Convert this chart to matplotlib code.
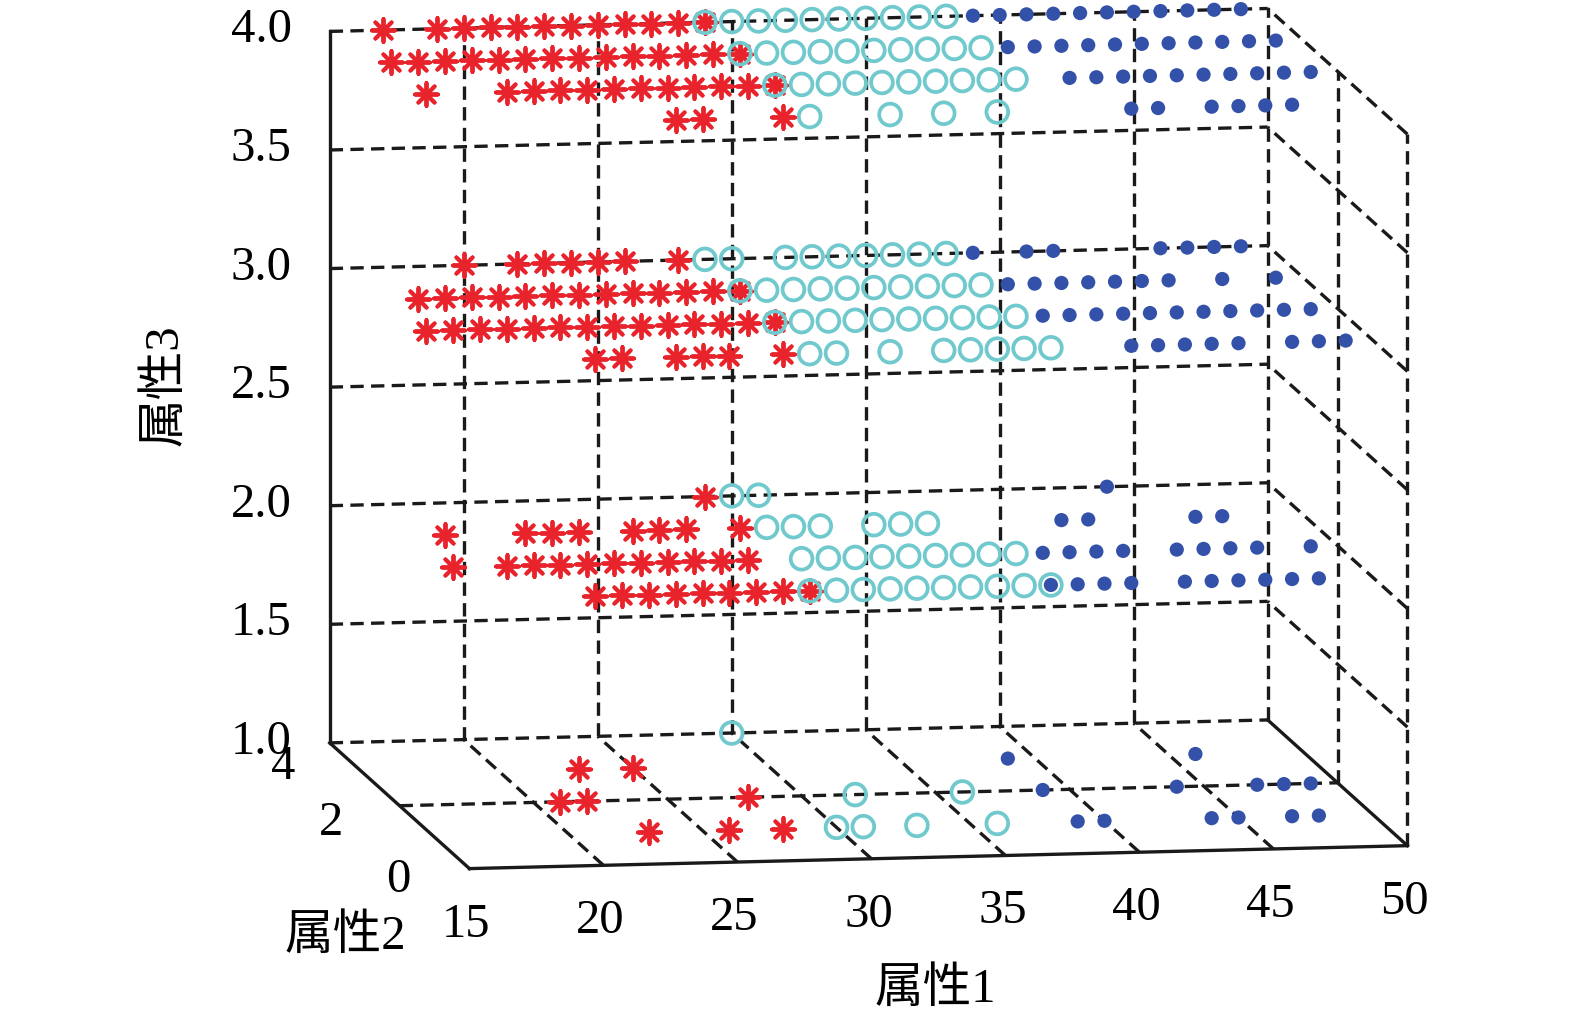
import numpy as np
import matplotlib
matplotlib.use('Agg')
import matplotlib.pyplot as plt

plt.rcParams['font.family'] = ['Liberation Serif', 'Noto Sans CJK SC', 'DejaVu Sans']

# ---------------- data ----------------
x_ticks = [15, 20, 25, 30, 35, 40, 45, 50]
y_ticks = [0, 2, 4]
z_ticks = [1.0, 1.5, 2.0, 2.5, 3.0, 3.5, 4.0]
x_tick_labels = ['15', '20', '25', '30', '35', '40', '45', '50']
y_tick_labels = ['0', '2', '4']
z_tick_labels = ['1.0', '1.5', '2.0', '2.5', '3.0', '3.5', '4.0']
x_name = '属性1'
y_name = '属性2'
z_name = '属性3'

# each row: (属性3, 属性2, [属性1 values])
red_rows = [
    (4, 4, [17, 19, 20, 21, 22, 23, 24, 25, 26, 27, 28, 29]),
    (4, 3, [16, 17, 18, 19, 20, 21, 22, 23, 24, 25, 26, 27, 28, 29]),
    (4, 2, [16, 19, 20, 21, 22, 23, 24, 25, 26, 27, 28, 29]),
    (4, 1, [24, 25, 28]),
    (3, 4, [20, 22, 23, 24, 25, 26, 28]),
    (3, 3, [17, 18, 19, 20, 21, 22, 23, 24, 25, 26, 27, 28, 29]),
    (3, 2, [16, 17, 18, 19, 20, 21, 22, 23, 24, 25, 26, 27, 28, 29]),
    (3, 1, [21, 22, 24, 25, 26, 28]),
    (2, 4, [29]),
    (2, 3, [18, 21, 22, 23, 25, 26, 27, 29]),
    (2, 2, [17, 19, 20, 21, 22, 23, 24, 25, 26, 27, 28]),
    (2, 1, [21, 22, 23, 24, 25, 26, 27, 28, 29]),
    (1, 3, [23, 25]),
    (1, 2, [21, 22, 28]),
    (1, 1, [23, 26, 28]),
]
cyan_rows = [
    (4, 4, [29, 30, 31, 32, 33, 34, 35, 36, 37, 38]),
    (4, 3, [29, 30, 31, 32, 33, 34, 35, 36, 37, 38]),
    (4, 2, [29, 30, 31, 32, 33, 34, 35, 36, 37, 38]),
    (4, 1, [29, 32, 34, 36]),
    (3, 4, [29, 30, 32, 33, 34, 35, 36, 37, 38]),
    (3, 3, [29, 30, 31, 32, 33, 34, 35, 36, 37, 38]),
    (3, 2, [29, 30, 31, 32, 33, 34, 35, 36, 37, 38]),
    (3, 1, [29, 30, 32, 34, 35, 36, 37, 38]),
    (2, 4, [30, 31]),
    (2, 3, [30, 31, 32, 34, 35, 36]),
    (2, 2, [30, 31, 32, 33, 34, 35, 36, 37, 38]),
    (2, 1, [29, 30, 31, 32, 33, 34, 35, 36, 37, 38]),
    (1, 4, [30]),
    (1, 2, [32, 36]),
    (1, 1, [30, 31, 33, 36]),
]
blue_rows = [
    (4, 4, [39, 40, 41, 42, 43, 44, 45, 46, 47, 48, 49]),
    (4, 3, [39, 40, 41, 42, 43, 44, 45, 46, 47, 48, 49]),
    (4, 2, [40, 41, 42, 43, 44, 45, 46, 47, 48, 49]),
    (4, 1, [41, 42, 44, 45, 46, 47]),
    (3, 4, [39, 41, 42, 46, 47, 48, 49]),
    (3, 3, [39, 40, 41, 42, 43, 44, 45, 47, 49]),
    (3, 2, [39, 40, 41, 42, 43, 44, 45, 46, 47, 48, 49]),
    (3, 1, [41, 42, 43, 44, 45, 47, 48, 49]),
    (2, 4, [44]),
    (2, 3, [41, 42, 46, 47]),
    (2, 2, [39, 40, 41, 42, 44, 45, 46, 47, 49]),
    (2, 1, [38, 39, 40, 41, 43, 44, 45, 46, 47, 48]),
    (1, 3, [39, 46]),
    (1, 2, [39, 44, 47, 48, 49]),
    (1, 1, [39, 40, 44, 45, 47, 48]),
]


def expand(rows):
    xs, ys, zs = [], [], []
    for zv, yv, vals in rows:
        for v in vals:
            xs.append(v)
            ys.append(yv)
            zs.append(zv)
    return np.array(xs, float), np.array(ys, float), np.array(zs, float)


# ---------------- style / layout ----------------
RED = '#E8232B'
CYAN = '#6FC9CD'
BLUE = '#3351A8'
FS = 35
W, H = 1575, 1035
xlim = (x_ticks[0], x_ticks[-1])
ylim = (y_ticks[0], y_ticks[-1])
zlim = (z_ticks[0], z_ticks[-1])

fig = plt.figure(figsize=(W / 100, H / 100), dpi=100)
ax = fig.add_axes([0, 0, 1, 1], projection='3d')
ax.set_proj_type('ortho')
ax.set_xlim(*xlim)
ax.set_ylim(*ylim)
ax.set_zlim(*zlim)
ax.set_box_aspect((952.7, 861, 721))
ax.view_init(elev=8.53, azim=-99.36)
ax.set_axis_off()
ax.computed_zorder = False

GRID = dict(color='#1a1a1a', lw=2.4, ls=(0, (4.0, 2.2)), zorder=1)
AXL = dict(color='#1a1a1a', lw=2.4, ls='-', zorder=2)
x0, x1 = xlim
y0, y1 = ylim
z0, z1 = zlim
# back wall (属性2 = max)
for xv in x_ticks[1:]:
    ax.plot([xv, xv], [y1, y1], [z0, z1], **GRID)
for zv in z_ticks:
    ax.plot([x0, x1], [y1, y1], [zv, zv], **GRID)
# floor
for xv in x_ticks[1:-1]:
    ax.plot([xv, xv], [y0, y1], [z0, z0], **GRID)
for yv in y_ticks[1:-1]:
    ax.plot([x0, x1], [yv, yv], [z0, z0], **GRID)
# right wall (属性1 = max)
for zv in z_ticks[1:]:
    ax.plot([x1, x1], [y0, y1], [zv, zv], **GRID)
for yv in y_ticks[:-1]:
    ax.plot([x1, x1], [yv, yv], [z0, z1], **GRID)
# solid axis lines
ax.plot([x0, x0], [y1, y1], [z0, z1], **AXL)
ax.plot([x0, x0], [y0, y1], [z0, z0], **AXL)
ax.plot([x0, x1], [y0, y0], [z0, z0], **AXL)
ax.plot([x1, x1], [y0, y1], [z0, z0], **AXL)

rx, ry, rz = expand(red_rows)
cx, cy, cz = expand(cyan_rows)
bx, by, bz = expand(blue_rows)
ax.scatter(rx, ry, rz, marker=(8, 2, 0), s=270, c=RED, linewidths=2.8,
           depthshade=False, zorder=3)
ax.scatter(cx, cy, cz, marker='o', s=245, facecolors='none', edgecolors=CYAN,
           linewidths=2.7, depthshade=False, zorder=4)
ax.scatter(bx, by, bz, marker='o', s=105, c=BLUE, edgecolors='none',
           depthshade=False, zorder=5)


# ---------------- place the box (calibration of axes position) ----------------
def to_px(x, y, z):
    M = ax.get_proj()
    v = np.array([[x], [y], [z], [1.0]], float)
    p = M @ v
    return ax.transData.transform((p[0, 0] / p[3, 0], p[1, 0] / p[3, 0]))


fig.canvas.draw()
corner_pts = [(x0, y1, z0), (x1, y0, z0), (x0, y1, z1), (x0, y0, z0), (x1, y1, z1)]
corner_targets = [(329, 743), (1408, 843), (329, 30), (469, 869), (1269, 12)]  # image pixels
P = np.array([to_px(*c) for c in corner_pts])
Q = np.array([(tx, H - ty) for tx, ty in corner_targets], float)
pm, qm = P.mean(0), Q.mean(0)
s = np.sum((P - pm) * (Q - qm)) / np.sum((P - pm) ** 2)
t = qm - s * pm
bb = ax.get_position()
cx_old = (bb.x0 + bb.width / 2) * W
cy_old = (bb.y0 + bb.height / 2) * H
side_old = bb.width * W
side = side_old * s
c_new = s * np.array([cx_old, cy_old]) + t
ax.set_position([(c_new[0] - side / 2) / W, (c_new[1] - side / 2) / H, side / W, side / H])
fig.canvas.draw()


def label_at(px, py, txt, **kw):
    fig.text(px / W, py / H, txt, fontsize=FS, **kw)


# z tick labels
for zv, lab in zip(z_ticks, z_tick_labels):
    px, py = to_px(x0, y1, zv)
    label_at(px - 38, py + 1, lab, ha='right', va='center')
# x tick labels
for xv, lab in zip(x_ticks, x_tick_labels):
    px, py = to_px(xv, y0, z0)
    label_at(px - 3, py - 56, lab, ha='center', va='center')
# y tick labels
y_lab_dx = [-71, -69, -47]
y_lab_dy = [-11, -17, -24]
for yv, lab, dx, dy in zip(y_ticks, y_tick_labels, y_lab_dx, y_lab_dy):
    px, py = to_px(x0, yv, z0)
    label_at(px + dx, py + dy, lab, ha='center', va='center')

# axis titles
fig.text(935 / W, 1 - 990 / H, x_name, fontsize=FS, ha='center', va='center')
fig.text(345 / W, 1 - 937 / H, y_name, fontsize=FS, ha='center', va='center')
fig.text(165 / W, 1 - 385 / H, z_name, fontsize=FS, ha='center', va='center', rotation=90)

fig.savefig('out.png', dpi=100)
